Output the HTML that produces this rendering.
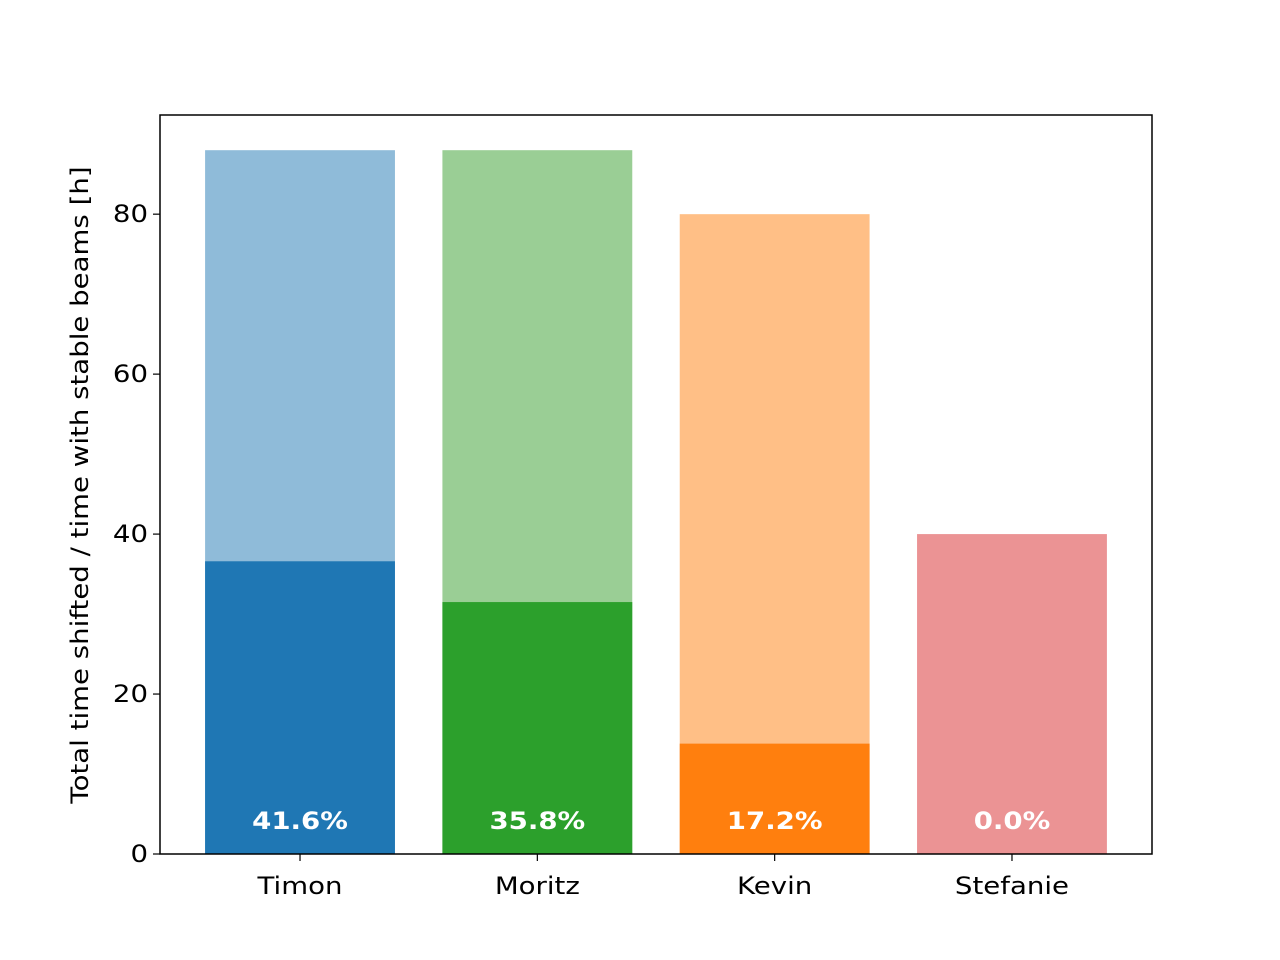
<!DOCTYPE html>
<html><head><meta charset="utf-8"><style>body{margin:0;background:#fff}svg{display:block;font-family:"DejaVu Sans","Liberation Sans",sans-serif}</style></head>
<body>
<svg id="chart" width="1280" height="960">
<rect x="0" y="0" width="1280" height="960" fill="#fff"/>
<g id="plot"></g>
</svg>
<script>
const categories = ["Timon","Moritz","Kevin","Stefanie"];
const totalHours = [88, 88, 80, 40];
const stableHours = [36.6, 31.5, 13.8, 0];
const percentLabels = ["41.6%","35.8%","17.2%","0.0%"];
const yTicks = [0,20,40,60,80];
const darkColors = ["#1f77b4","#2ca02c","#ff7f0e","#d62728"];
const lightColors = ["#8fbbd9","#9ace95","#ffbf86","#eb9394"];

const L=160,R=1152,T=115,B=854, yMax=92.4, xMin=-0.59, xMax=3.59, bw=0.8;
const SX=1.15;
const ys=v=>B-(v/yMax)*(B-T);
const xs=v=>L+(v-xMin)/(xMax-xMin)*(R-L);
const NS="http://www.w3.org/2000/svg";
const g=document.getElementById('plot');
function mk(t,a){const e=document.createElementNS(NS,t);for(const k in a)e.setAttribute(k,a[k]);g.appendChild(e);return e;}
function txt(x,y,s,a){const e=mk('text',Object.assign({x:0,y:0,transform:`translate(${x},${y}) scale(${SX},1)`},a));e.textContent=s;return e;}

categories.forEach((c,i)=>{
  const x0=xs(i-bw/2), w=xs(i+bw/2)-x0;
  const r1=mk('rect',{x:x0,y:ys(totalHours[i]),width:w,height:B-ys(totalHours[i]),fill:lightColors[i]});
  
  
  const r2=mk('rect',{x:x0,y:ys(stableHours[i]),width:w,height:B-ys(stableHours[i]),fill:darkColors[i]});
  
  
  const t=txt(xs(i),829,percentLabels[i],{'text-anchor':'middle','font-size':'24','font-weight':'bold',fill:'#fff'});
  
  
  const tk=mk('line',{x1:xs(i),x2:xs(i),y1:B,y2:B+7,stroke:'#000','stroke-width':1.2});
  
  
  const tl=txt(xs(i),894,c,{'text-anchor':'middle','font-size':'24',fill:'#000'});
  
  
});
yTicks.forEach(v=>{
  const tk=mk('line',{x1:L-7,x2:L,y1:ys(v),y2:ys(v),stroke:'#000','stroke-width':1.2});
  
  
  const tl=txt(L-12,ys(v)+8,String(v),{'text-anchor':'end','font-size':'24',fill:'#000'});
  
  
});
const fr=mk('rect',{x:L,y:T,width:R-L,height:B-T,fill:'none',stroke:'#000','stroke-width':1.5});


const yl=mk('text',{x:0,y:0,transform:`translate(88,485) rotate(-90) scale(${SX},1)`,'text-anchor':'middle','font-size':'24',fill:'#000'});
yl.textContent='Total time shifted / time with stable beams [h]';


</script>
</body></html>
